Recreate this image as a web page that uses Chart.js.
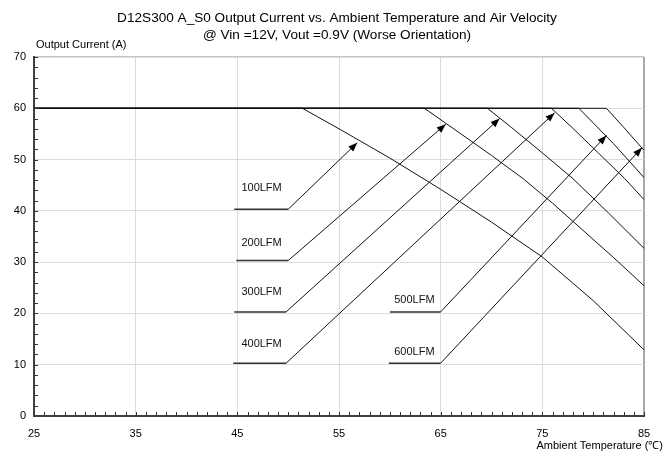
<!DOCTYPE html>
<html>
<head>
<meta charset="utf-8">
<title>D12S300 derating</title>
<script src="https://cdn.jsdelivr.net/npm/chart.js@4.4.0/dist/chart.umd.min.js"></script>
<style>
  html, body { margin: 0; padding: 0; background: #fff; }
</style>
</head>
<body>
<canvas id="myChart" width="668" height="452"></canvas>
<script>
// data

const flowNames = ['100LFM', '200LFM', '300LFM', '400LFM', '500LFM', '600LFM'];

// derating curves: ambient temperature (C) -> output current (A)
const temp100 = [25, 51.4, 55, 60, 65, 70, 75, 80, 85];
const amp100  = [60, 60, 56.0, 50.3, 44.2, 37.8, 31.0, 22.5, 12.9];
const temp200 = [25, 63.4, 67, 70, 73.1, 76, 79, 82, 85];
const amp200  = [60, 60, 55.0, 50.8, 46.3, 41.5, 36.2, 30.9, 25.4];
const temp300 = [25, 69.6, 72, 75, 78, 81.5, 85];
const amp300  = [60, 60, 56.2, 51.3, 46.3, 39.6, 32.7];
const temp400 = [25, 75.9, 78, 80.5, 83.1, 85];
const amp400  = [60, 60, 56.1, 51.3, 46.3, 42.2];
const temp500 = [25, 78.6, 82, 85];
const amp500  = [60, 60, 53.1, 46.5];
const temp600 = [25, 81.3, 83, 85];
const amp600  = [60, 60, 56.3, 51.8];

// leader arrows: underline start, underline end, arrow tip
const arrowTemp = [
  [44.7, 50.0, 56.8],
  [44.9, 50.0, 65.5],
  [44.7, 49.8, 70.8],
  [44.6, 49.8, 76.2],
  [60.0, 65.0, 81.3],
  [59.9, 65.0, 84.8]
];
const arrowAmp = [
  [40.3, 40.3, 53.3],
  [30.3, 30.3, 56.9],
  [20.3, 20.3, 58.0],
  [10.3, 10.3, 59.1],
  [20.3, 20.3, 54.7],
  [10.3, 10.3, 52.3]
];

// where the LFM labels sit
const labelTemp  = [45.4, 45.4, 45.4, 45.4, 64.4, 64.4];
const labelAmp   = [44.5, 33.8, 24.2, 14.1, 22.6, 12.5];
const labelAlign = ['left', 'left', 'left', 'left', 'right', 'right'];

const xTicks = [25, 35, 45, 55, 65, 75, 85];
const yTicks = [0, 10, 20, 30, 40, 50, 60, 70];

const titleLines = [
  'D12S300 A_S0 Output Current vs. Ambient Temperature and Air Velocity',
  '@ Vin =12V, Vout =0.9V (Worse Orientation)'
];
const yTitle = 'Output Current (A)';
const xTitle = 'Ambient Temperature (\u2103)';


Chart.defaults.font.family = '"Liberation Sans", Arial, sans-serif';
Chart.defaults.font.size = 11;
Chart.defaults.color = '#000';

const zip = (xs, ys) => xs.map((v, i) => ({ x: v, y: ys[i] }));

const curveTemps = [temp100, temp200, temp300, temp400, temp500, temp600];
const curveAmps = [amp100, amp200, amp300, amp400, amp500, amp600];

const datasets = [];
curveTemps.forEach((t, i) => {
  datasets.push({
    label: flowNames[i],
    data: zip(t, curveAmps[i]),
    showLine: true,
    borderColor: '#111',
    borderWidth: 1,
    pointRadius: 0,
    tension: 0
  });
});
arrowTemp.forEach((t, i) => {
  datasets.push({
    label: flowNames[i] + ' arrow',
    data: zip(t, arrowAmp[i]),
    showLine: true,
    isArrow: true,
    borderColor: '#111',
    borderWidth: 1,
    segment: {
      borderWidth: c => c.p0DataIndex === 0 ? 1.5 : 1,
      borderColor: c => c.p0DataIndex === 0 ? '#333' : '#111'
    },
    pointRadius: 0,
    tension: 0
  });
});

const decor = {
  id: 'decor',
  afterDraw(chart) {
    const ctx = chart.ctx;
    const x = chart.scales.x, y = chart.scales.y;
    ctx.save();

    // little inside ticks
    ctx.strokeStyle = '#333';
    ctx.lineWidth = 1;
    ctx.beginPath();
    for (let t = 26; t <= 85; t++) {
      const px = Math.round(x.getPixelForValue(t)) + 0.5;
      ctx.moveTo(px, y.bottom);
      ctx.lineTo(px, y.bottom - 4);
    }
    for (let a = 2; a <= 70; a += 2) {
      const py = Math.round(y.getPixelForValue(a)) + 0.5;
      ctx.moveTo(x.left, py);
      ctx.lineTo(x.left + 4, py);
    }
    ctx.stroke();

    // arrow heads
    ctx.fillStyle = '#000';
    chart.data.datasets.forEach((ds, i) => {
      if (!ds.isArrow) return;
      const pts = chart.getDatasetMeta(i).data;
      const a = pts[pts.length - 2], b = pts[pts.length - 1];
      const ang = Math.atan2(b.y - a.y, b.x - a.x);
      ctx.save();
      ctx.translate(b.x, b.y);
      ctx.rotate(ang);
      ctx.beginPath();
      ctx.moveTo(0, 0);
      ctx.lineTo(-9, -3.5);
      ctx.lineTo(-9, 3.5);
      ctx.closePath();
      ctx.fill();
      ctx.restore();
    });

    // LFM labels
    ctx.font = '11px "Liberation Sans", Arial, sans-serif';
    ctx.fillStyle = '#111';
    ctx.textBaseline = 'middle';
    flowNames.forEach((n, i) => {
      ctx.textAlign = labelAlign[i];
      ctx.fillText(n, x.getPixelForValue(labelTemp[i]), y.getPixelForValue(labelAmp[i]));
    });

    // titles
    ctx.font = '13.6px "Liberation Sans", Arial, sans-serif';
    ctx.fillStyle = '#000';
    ctx.textAlign = 'center';
    ctx.fillText(titleLines[0], 337, 18);
    ctx.fillText(titleLines[1], 337, 35);

    ctx.font = '11px "Liberation Sans", Arial, sans-serif';
    ctx.textAlign = 'left';
    ctx.fillText(yTitle, 36, 45);
    ctx.textAlign = 'right';
    ctx.fillText(xTitle, 663, 446);
    ctx.restore();
  }
};

new Chart(document.getElementById('myChart'), {
  type: 'scatter',
  data: { datasets: datasets },
  options: {
    responsive: false,
    animation: false,
    layout: { padding: { top: 57, right: 24, left: 0, bottom: 0 } },
    plugins: {
      legend: { display: false },
      tooltip: { enabled: false },
      title: { display: false }
    },
    scales: {
      x: {
        type: 'linear',
        min: 25,
        max: 85,
        afterBuildTicks: s => { s.ticks = xTicks.map(v => ({ value: v })); },
        afterFit: s => { s.height = 36; },
        ticks: { padding: 11, maxRotation: 0, font: { size: 11 } },
        grid: {
          drawTicks: false,
          color: c => c.tick && c.tick.value === 85 ? '#a8a8a8' : '#dcdcdc',
          lineWidth: c => c.tick && c.tick.value === 85 ? 2 : 1
        },
        border: { color: '#404040', width: 2 }
      },
      y: {
        min: 0,
        max: 70,
        afterBuildTicks: s => { s.ticks = yTicks.map(v => ({ value: v })); },
        afterFit: s => { s.width = 34; },
        ticks: { padding: 8, font: { size: 11 } },
        grid: {
          drawTicks: false,
          color: c => c.tick && c.tick.value === 70 ? '#c4c4c4' : '#dcdcdc',
          lineWidth: c => c.tick && c.tick.value === 70 ? 1.5 : 1
        },
        border: { color: '#404040', width: 2 }
      }
    }
  },
  plugins: [decor]
});
</script>
</body>
</html>
